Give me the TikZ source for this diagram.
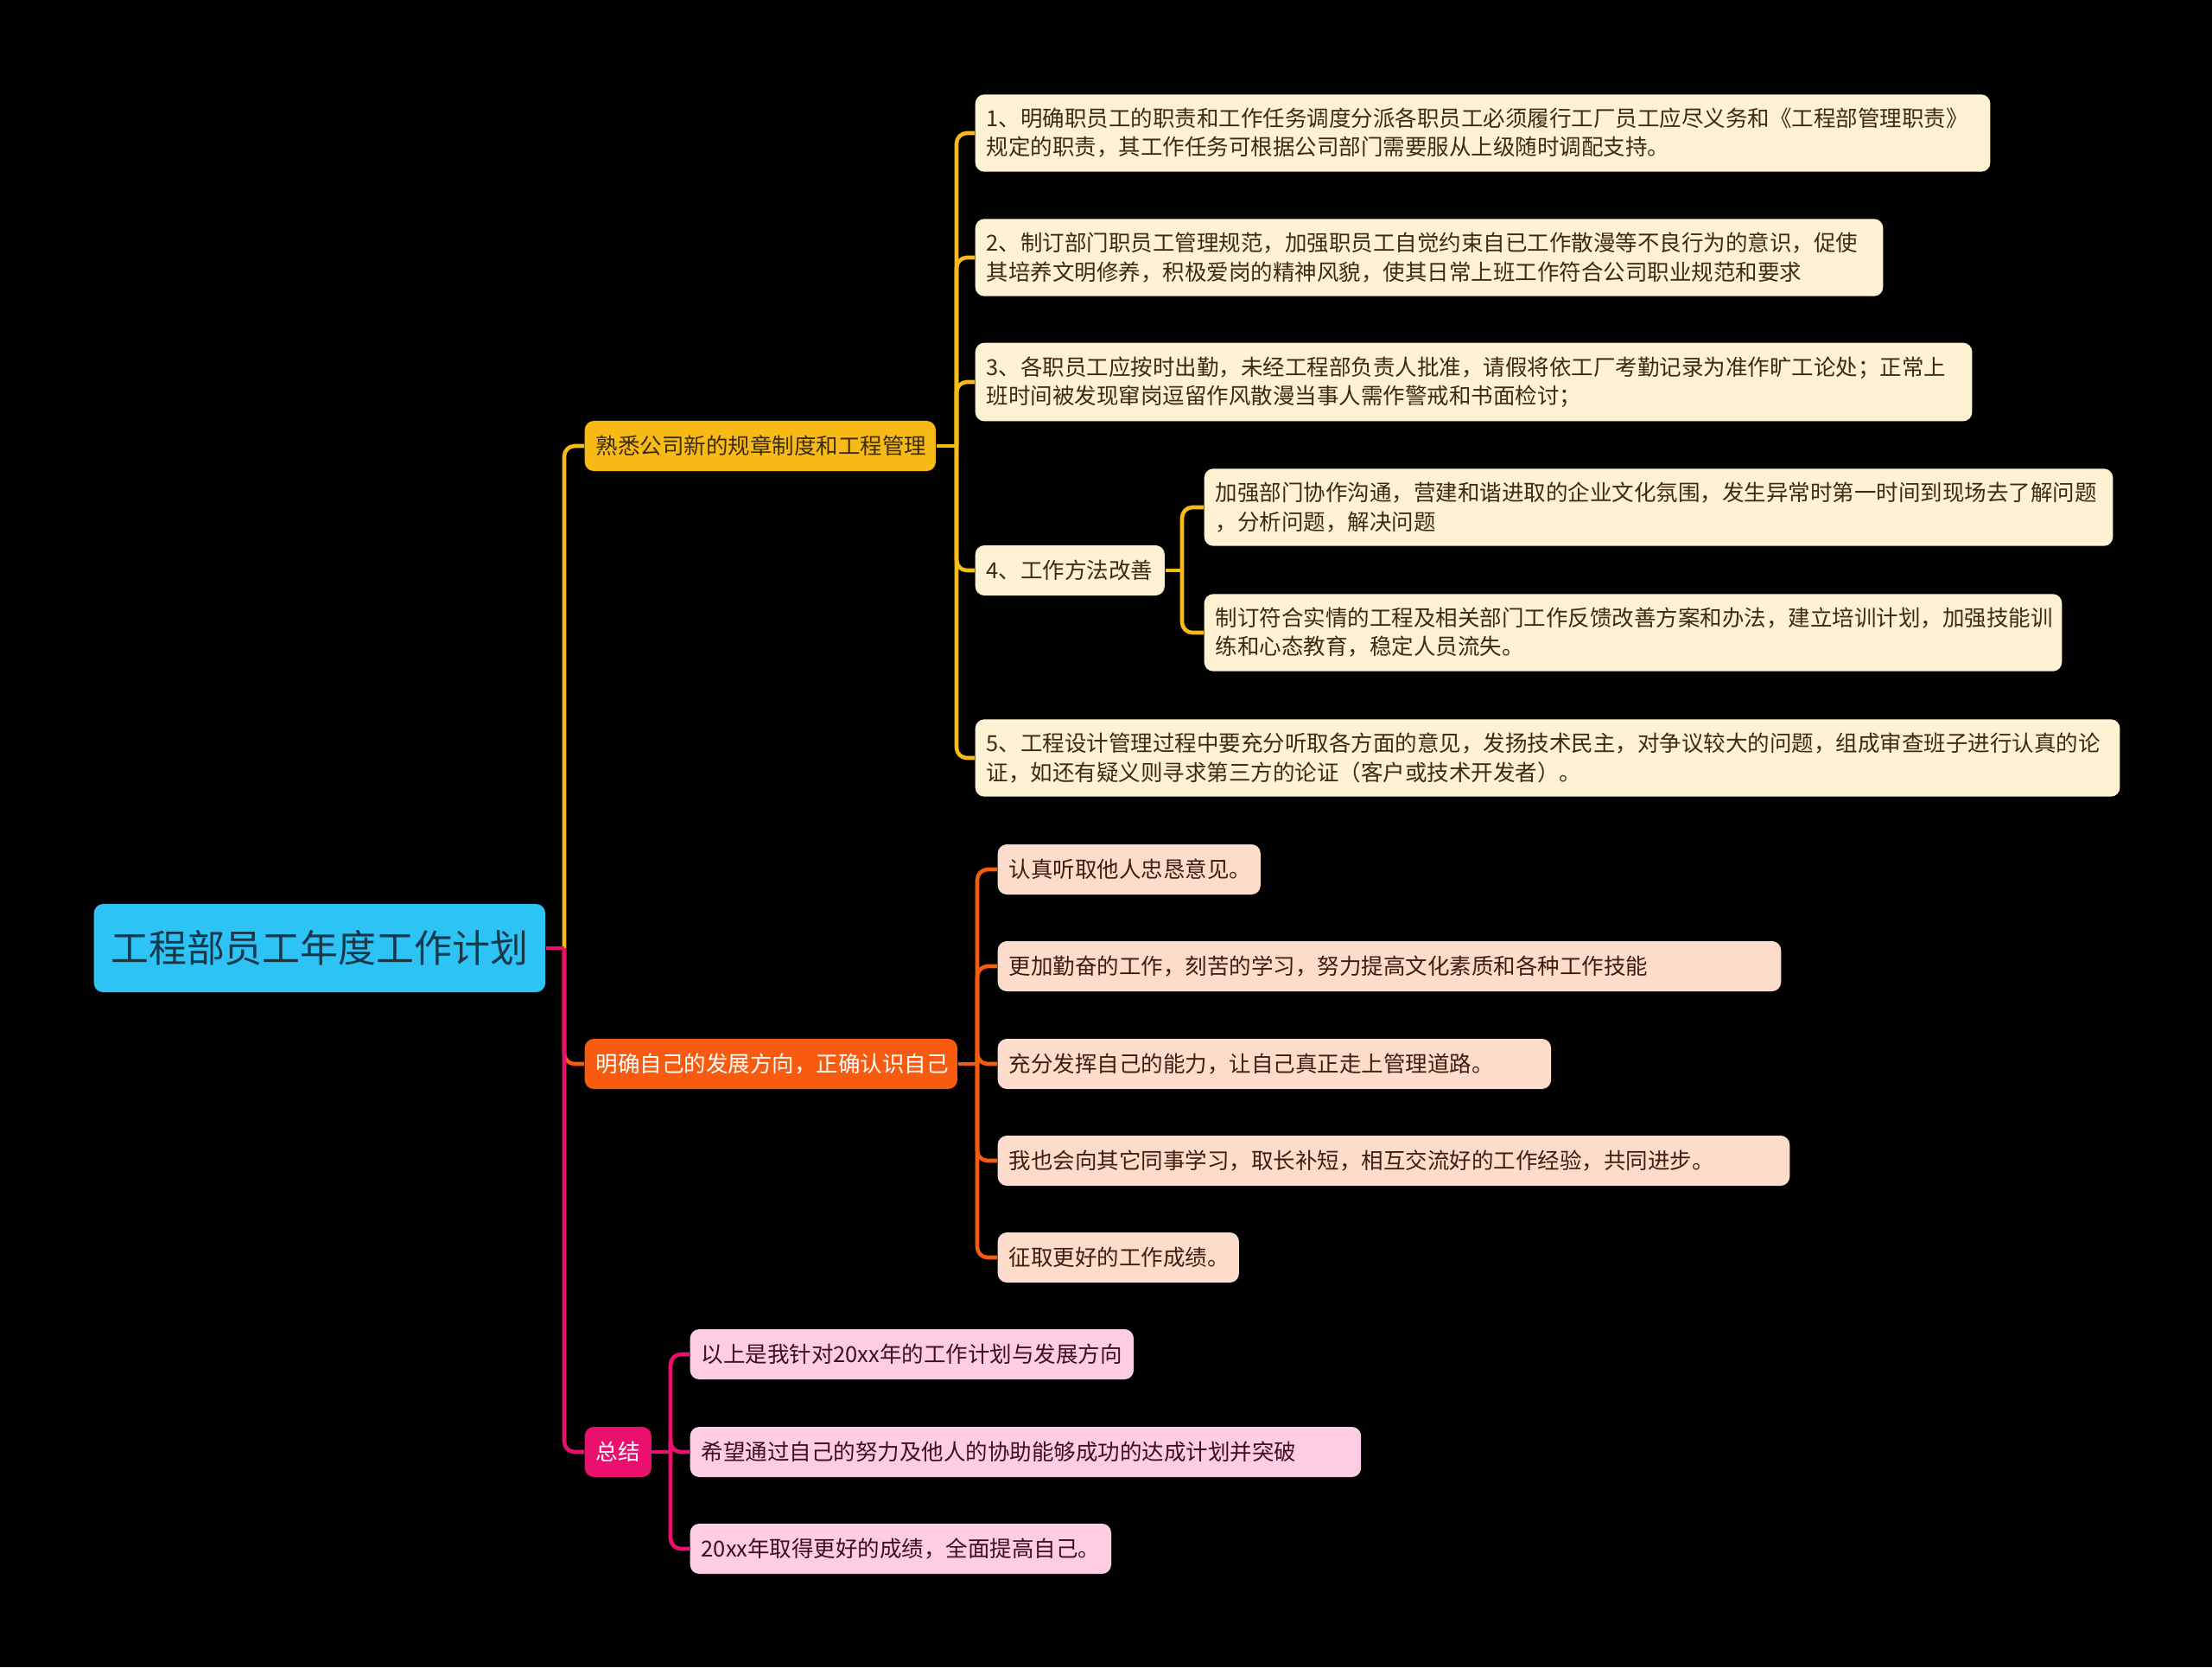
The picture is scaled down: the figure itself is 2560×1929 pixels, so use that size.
\documentclass[tikz,border=0pt]{standalone}
\usepackage{fontspec}
\newfontfamily\cjk{Noto Sans CJK SC}
\definecolor{rootblue}{HTML}{2DC3F5}
\definecolor{rootink}{HTML}{17374A}
\definecolor{ylw}{HTML}{F8BA16}
\definecolor{org}{HTML}{F65B0F}
\definecolor{pnk}{HTML}{EB0F6E}
\definecolor{ylwleaf}{HTML}{FEF2D3}
\definecolor{orgleaf}{HTML}{FDDCCB}
\definecolor{pnkleaf}{HTML}{FCCDE3}
\definecolor{ylwink}{HTML}{3B2D0C}
\definecolor{orgink}{HTML}{3D1F10}
\definecolor{pnkink}{HTML}{3E0F22}

\begin{document}
\begin{tikzpicture}[x=0.01cm, y=-0.01cm,
  box/.style={anchor=west, rounded corners=3pt, align=left, inner xsep=0.13cm,
    inner ysep=0.16cm, minimum height=0.58cm, font=\cjk\fontsize{7.25pt}{9.4pt}\selectfont},
  topic/.style={box, fill=#1},
  leafy/.style={box, fill=ylwleaf, text=ylwink},
  leafo/.style={box, fill=orgleaf, text=orgink},
  leafp/.style={box, fill=pnkleaf, text=pnkink},
  link/.style={line width=1.3pt, rounded corners=0.12cm}
]
\fill[black] (0,0) rectangle (2560,1929);
\useasboundingbox (0,0) rectangle (2560,1929);

\node[box, fill=rootblue, text=rootink, text width=4.96cm, minimum height=1.02cm, align=center,
  font=\cjk\fontsize{12.5pt}{14pt}\selectfont] (root) at (108,1097) {工程部员工年度工作计划};

\node[topic=ylw, text=ylwink, text width=3.80cm] (rules) at (676,516) {熟悉公司新的规章制度和工程管理};
\node[topic=org, text=white, text width=4.05cm] (growth) at (676,1231) {明确自己的发展方向，正确认识自己};
\node[topic=pnk, text=white, text width=0.51cm] (summary) at (676,1680) {总结};

\node[leafy, text width=11.48cm] (duty) at (1128,154) {1、明确职员工的职责和工作任务调度分派各职员工必须履行工厂员工应尽义务和《工程部管理职责》\\规定的职责，其工作任务可根据公司部门需要服从上级随时调配支持。};
\node[leafy, text width=10.24cm] (norm) at (1128,298) {2、制订部门职员工管理规范，加强职员工自觉约束自已工作散漫等不良行为的意识，促使\\其培养文明修养，积极爱岗的精神风貌，使其日常上班工作符合公司职业规范和要求};
\node[leafy, text width=11.27cm] (attend) at (1128,442) {3、各职员工应按时出勤，未经工程部负责人批准，请假将依工厂考勤记录为准作旷工论处；正常上\\班时间被发现窜岗逗留作风散漫当事人需作警戒和书面检讨；};
\node[leafy, text width=1.93cm] (method) at (1128,660) {4、工作方法改善};
\node[leafy, text width=10.25cm] (coop) at (1393,587) {加强部门协作沟通，营建和谐进取的企业文化氛围，发生异常时第一时间到现场去了解问题\\，分析问题，解决问题};
\node[leafy, text width=9.66cm] (train) at (1393,732) {制订符合实情的工程及相关部门工作反馈改善方案和办法，建立培训计划，加强技能训\\练和心态教育，稳定人员流失。};
\node[leafy, text width=12.98cm] (design) at (1128,877) {5、工程设计管理过程中要充分听取各方面的意见，发扬技术民主，对争议较大的问题，组成审查班子进行认真的论\\证，如还有疑义则寻求第三方的论证（客户或技术开发者）。};

\node[leafo, text width=2.78cm] (listen) at (1154,1006) {认真听取他人忠恳意见。};
\node[leafo, text width=8.80cm] (study) at (1154,1118) {更加勤奋的工作，刻苦的学习，努力提高文化素质和各种工作技能};
\node[leafo, text width=6.14cm] (ability) at (1154,1231) {充分发挥自己的能力，让自己真正走上管理道路。};
\node[leafo, text width=8.90cm] (peers) at (1154,1343) {我也会向其它同事学习，取长补短，相互交流好的工作经验，共同进步。};
\node[leafo, text width=2.53cm] (result) at (1154,1455) {征取更好的工作成绩。};

\node[leafp, text width=4.87cm] (plan) at (798,1567) {以上是我针对20xx年的工作计划与发展方向};
\node[leafp, text width=7.50cm] (hope) at (798,1680) {希望通过自己的努力及他人的协助能够成功的达成计划并突破};
\node[leafp, text width=4.61cm] (better) at (798,1792) {20xx年取得更好的成绩，全面提高自己。};

\coordinate (jroot) at (653,1097);
\coordinate (jrules) at (1107,516);
\coordinate (jmethod) at (1368,660);
\coordinate (jgrowth) at (1131,1231);
\coordinate (jsum) at (776,1680);

\draw[link, org] (jroot) |- (growth.west);
\draw[link, ylw] (jroot) |- (rules.west);
\draw[link, pnk] (jroot) |- (summary.west);
\draw[link, pnk] (root.east) -- (jroot);

\draw[link, ylw] (rules.east) -- (jrules);
\foreach \n in {duty, norm, attend, method, design}
  \draw[link, ylw] (jrules) |- (\n.west);
\draw[link, ylw] (method.east) -- (jmethod);
\foreach \n in {coop, train}
  \draw[link, ylw] (jmethod) |- (\n.west);

\draw[link, org] (growth.east) -- (jgrowth);
\foreach \n in {listen, study, ability, peers, result}
  \draw[link, org] (jgrowth) |- (\n.west);

\draw[link, pnk] (summary.east) -- (jsum);
\foreach \n in {plan, hope, better}
  \draw[link, pnk] (jsum) |- (\n.west);
\end{tikzpicture}
\end{document}
